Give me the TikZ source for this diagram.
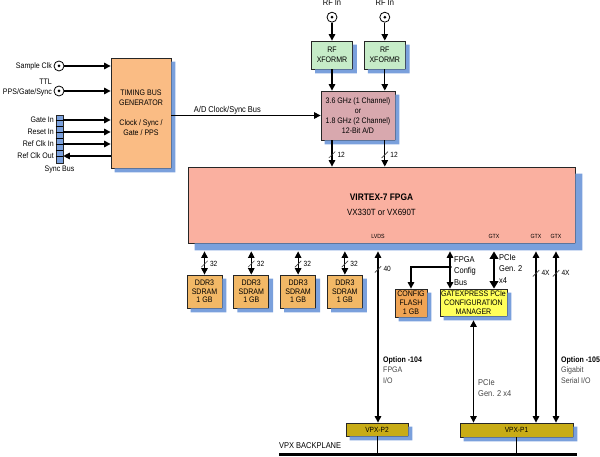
\documentclass[tikz,border=0pt]{standalone}
\usepackage{fontspec}
\setmainfont[FakeStretch=0.88]{Liberation Sans}
\usepackage{tikz}
\usetikzlibrary{arrows.meta, positioning, shapes}
\definecolor{tbgorange}{RGB}{250,188,132}
\definecolor{rfgreen}{RGB}{198,236,200}
\definecolor{adcpink}{RGB}{216,168,174}
\definecolor{fpgasalmon}{RGB}{250,176,160}
\definecolor{ddrorange}{RGB}{242,184,102}
\definecolor{flashorange}{RGB}{240,164,84}
\definecolor{gxyellow}{RGB}{255,255,90}
\definecolor{vpxolive}{RGB}{200,172,22}
\definecolor{shadowblue}{RGB}{122,160,220}
\definecolor{textgray}{RGB}{70,70,70}

\begin{document}
\begin{tikzpicture}[x=1pt, y=-1pt, font=\fontsize{8}{10}\selectfont, >={Triangle[length=6.5pt,width=6.5pt]}]
\tikzstyle{block} = [rectangle, draw=black!85, line width=0.8pt, align=center, inner sep=1pt]
\tikzstyle{backshade} = [fill=shadowblue, draw=none]
\tikzstyle{ddr} = [block, fill=ddrorange, minimum width=35pt, minimum height=33pt, font=\fontsize{8}{8.7}\selectfont]
\tikzstyle{vpx} = [block, fill=vpxolive, font=\fontsize{7.5}{9}\selectfont]
\tikzstyle{arrow} = [line width=1.1pt, ->]
\tikzstyle{dblarrow} = [line width=1.1pt, <->]
\tikzstyle{thickdbl} = [line width=2pt, {Triangle[length=7.5pt,width=8.5pt]}-{Triangle[length=7.5pt,width=8.5pt]}]
\tikzstyle{jack} = [circle, draw, line width=0.8pt, fill=white, minimum size=10pt, inner sep=0pt]
\tikzstyle{slash} = [rectangle, inner sep=0pt, rotate=45, minimum width=9pt, minimum height=0.6pt, fill=black!75]
\tikzstyle{buswidth} = [right=5pt, inner sep=0pt, font=\fontsize{7.5}{8}\selectfont]
\tikzstyle{pinlabel} = [inner sep=0pt, font=\fontsize{6}{7}\selectfont]
\tikzstyle{siglabel} = [inner sep=1pt, font=\fontsize{8}{10}\selectfont]
\tikzstyle{note} = [align=left, inner sep=0pt, text=textgray, font=\fontsize{8}{10.5}\selectfont]
\tikzstyle{busnote} = [align=left, inner sep=0pt, font=\fontsize{8.5}{11.5}\selectfont]

\useasboundingbox (0,0) rectangle (600,457);

\node (timing) [block, fill=tbgorange, minimum width=60pt, minimum height=110pt] at (141,113) {TIMING BUS\\GENERATOR\\[10pt]Clock / Sync /\\Gate / PPS};

\node (sclk) [jack] at (59,66) {};
\fill (sclk) circle (1.5pt);
\node [siglabel, left=0.5pt of sclk] {Sample Clk};
\node (ttl) [jack] at (59,91) {};
\fill (ttl) circle (1.5pt);
\node [siglabel, align=right, left=0.5pt of ttl, yshift=3pt] {TTL\\PPS/Gate/Sync};

\node (sync) [rectangle, draw=black!85, line width=0.6pt, fill=shadowblue, minimum width=7pt, minimum height=48pt, inner sep=0pt] at (59.5,139) {};
\foreach \k in {1,...,7}
  \draw [line width=0.5pt] (sync.north west) ++(0,6*\k) -- ++(7,0);
\node (gatein) [siglabel, anchor=east] at (55,120) {Gate In};
\node (resetin) [siglabel, anchor=east] at (55,132) {Reset In};
\node (refin) [siglabel, anchor=east] at (55,144) {Ref Clk In};
\node (refout) [siglabel, anchor=east] at (55,156) {Ref Clk Out};
\node [siglabel, below=1pt of sync] {Sync Bus};

\node (rf1) [block, fill=rfgreen, minimum width=41pt, minimum height=28pt] at (332,55) {RF\\XFORMR};
\node (rf2) [block, fill=rfgreen, minimum width=41pt, minimum height=28pt, right=11pt of rf1] {RF\\XFORMR};
\node (rfin1) [jack, above=18pt of rf1] {};
\node (rfin2) [jack, above=18pt of rf2] {};
\fill (rfin1) circle (1.5pt);
\fill (rfin2) circle (1.5pt);
\node [siglabel, inner sep=0pt, above=6pt of rfin1, font=\fontsize{8.5}{10}\selectfont] {RF In};
\node [siglabel, inner sep=0pt, above=6pt of rfin2, font=\fontsize{8.5}{10}\selectfont] {RF In};

\node (adc) [block, fill=adcpink, minimum width=74pt, minimum height=49pt] at (358,115.5) {3.6 GHz (1 Channel)\\or\\1.8 GHz (2 Channel)\\12-Bit A/D};

\node (fpga) [block, fill=fpgasalmon, minimum width=387pt, minimum height=76pt, font=\fontsize{9}{15}\selectfont] at (381.5,205) {{\bfseries\fontsize{9.5}{15}\selectfont VIRTEX-7 FPGA}\\VX330T or VX690T};
\node (lvds) [pinlabel] at (378,236) {LVDS};
\node (gtxa) [pinlabel] at (494,236) {GTX};
\node (gtxb) [pinlabel] at (536,236) {GTX};
\node (gtxc) [pinlabel] at (556,236) {GTX};

\node (ddr1) [ddr] at (204.5,291.5) {DDR3\\SDRAM\\1 GB};
\node (ddr2) [ddr, right=11pt of ddr1] {DDR3\\SDRAM\\1 GB};
\node (ddr3) [ddr, right=11pt of ddr2] {DDR3\\SDRAM\\1 GB};
\node (ddr4) [ddr, right=11pt of ddr3] {DDR3\\SDRAM\\1 GB};

\node (flash) [block, fill=flashorange, minimum width=32pt, minimum height=28pt, font=\fontsize{8}{9}\selectfont] at (411,303) {CONFIG\\FLASH\\1 GB};
\node (gatex) [block, fill=gxyellow, minimum width=67pt, minimum height=27pt, inner sep=0pt, font=\fontsize{8}{9}\selectfont] at (473.5,302.5) {GATEXPRESS PCIe\\CONFIGURATION\\MANAGER};
\coordinate (cfgbus) at (450,267);

\node (vpx2) [vpx, minimum width=62pt, minimum height=13pt] at (377,429.5) {VPX-P2};
\node (vpx1) [vpx, minimum width=113pt, minimum height=14pt] at (516.5,430) {VPX-P1};
\coordinate (bpleft) at (279,454);
\coordinate (bpright) at (577,454);

\foreach \n in {timing,rf1,rf2,adc,ddr1,ddr2,ddr3,ddr4,flash,gatex,vpx2,vpx1}
  \fill [backshade] ([yshift=-4pt]\n.north east) -- ([shift={(4pt,-4pt)}]\n.north east) -- ([shift={(4pt,-4pt)}]\n.south east) -- ([shift={(4pt,-4pt)}]\n.south west) -- ([xshift=4pt]\n.south west) -- (\n.south east) -- cycle;
\fill [backshade] ([yshift=-7pt]fpga.north east) -- ([shift={(7pt,-7pt)}]fpga.north east) -- ([shift={(7pt,-7pt)}]fpga.south east) -- ([shift={(7pt,-7pt)}]fpga.south west) -- ([xshift=7pt]fpga.south west) -- (fpga.south east) -- cycle;

\draw [arrow] (sclk) -- (sclk -| timing.west);
\draw [arrow] (ttl) -- (ttl -| timing.west);
\draw [arrow] (gatein -| sync.east) -- (gatein -| timing.west);
\draw [arrow] (resetin -| sync.east) -- (resetin -| timing.west);
\draw [arrow] (refin -| sync.east) -- (refin -| timing.west);
\draw [arrow] (refout -| timing.west) -- (refout -| sync.east);

\draw [arrow] (timing.east |- adc.west) -- node[siglabel, anchor=south west, pos=0, xshift=21pt, font=\fontsize{8.5}{10}\selectfont] {A/D Clock/Sync Bus} (adc.west);
\draw [arrow] (rfin1) -- (rf1);
\draw [arrow] (rfin2) -- (rf2);
\draw [arrow] (rf1) -- (rf1 |- adc.north);
\draw [arrow] (rf2) -- (rf2 |- adc.north);
\draw [arrow] (rf1 |- adc.south) -- node[slash, pos=0.55] {} node[buswidth, pos=0.55] {12} (rf1 |- fpga.north);
\draw [arrow] (rf2 |- adc.south) -- node[slash, pos=0.55] {} node[buswidth, pos=0.55] {12} (rf2 |- fpga.north);

\draw [dblarrow, shorten <=8pt] (ddr1 |- fpga.south) -- node[slash, pos=0.66] {} node[buswidth, pos=0.66] {32} (ddr1);
\draw [dblarrow, shorten <=8pt] (ddr2 |- fpga.south) -- node[slash, pos=0.66] {} node[buswidth, pos=0.66] {32} (ddr2);
\draw [dblarrow, shorten <=8pt] (ddr3 |- fpga.south) -- node[slash, pos=0.66] {} node[buswidth, pos=0.66] {32} (ddr3);
\draw [dblarrow, shorten <=8pt] (ddr4 |- fpga.south) -- node[slash, pos=0.66] {} node[buswidth, pos=0.66] {32} (ddr4);

\draw [dblarrow, shorten <=8pt] (lvds |- fpga.south) -- node[slash, pos=0.145] {} node[buswidth, pos=0.145] {40} (lvds |- vpx2.north);

\fill (cfgbus) circle (1.8pt);
\draw [arrow, shorten >=8pt] (cfgbus) -- (cfgbus |- fpga.south);
\draw [arrow] (cfgbus) -- (cfgbus |- gatex.north);
\draw [arrow] (cfgbus) -| (flash);
\node [busnote, right=4pt of cfgbus, yshift=-4pt] {FPGA\\Config\\Bus};

\draw [thickdbl, shorten <=8pt] (gtxa |- fpga.south) -- (gtxa |- gatex.north);
\node [busnote, anchor=north west] at (499,254) {PCIe\\Gen. 2\\x4};

\draw [dblarrow, shorten <=8pt] (gtxb |- fpga.south) -- node[slash, pos=0.167] {} node[buswidth, pos=0.167] {4X} (gtxb |- vpx1.north);
\draw [dblarrow, shorten <=8pt] (gtxc |- fpga.south) -- node[slash, pos=0.167] {} node[buswidth, pos=0.167] {4X} (gtxc |- vpx1.north);
\draw [dblarrow, shorten <=4pt] (gatex) -- (gatex |- vpx1.north);
\node [note, anchor=west, font=\fontsize{8.5}{10.5}\selectfont] at (478,388) {PCIe\\Gen. 2 x4};

\node [note, anchor=west] at (383,370) {{\color{black}\bfseries Option -104}\\FPGA\\I/O};
\node [note, anchor=west] at (561,370) {{\color{black}\bfseries Option -105}\\Gigabit\\Serial I/O};

\draw [line width=3pt] (bpleft) -- (bpright);
\node [siglabel, inner sep=0pt, anchor=base west, font=\fontsize{8.5}{10}\selectfont] at (279,448) {VPX BACKPLANE};
\draw [line width=1pt] (vpx2.south) -- (vpx2.south |- bpleft);
\draw [line width=1pt] (vpx1.south) -- (vpx1.south |- bpleft);
\end{tikzpicture}
\end{document}
